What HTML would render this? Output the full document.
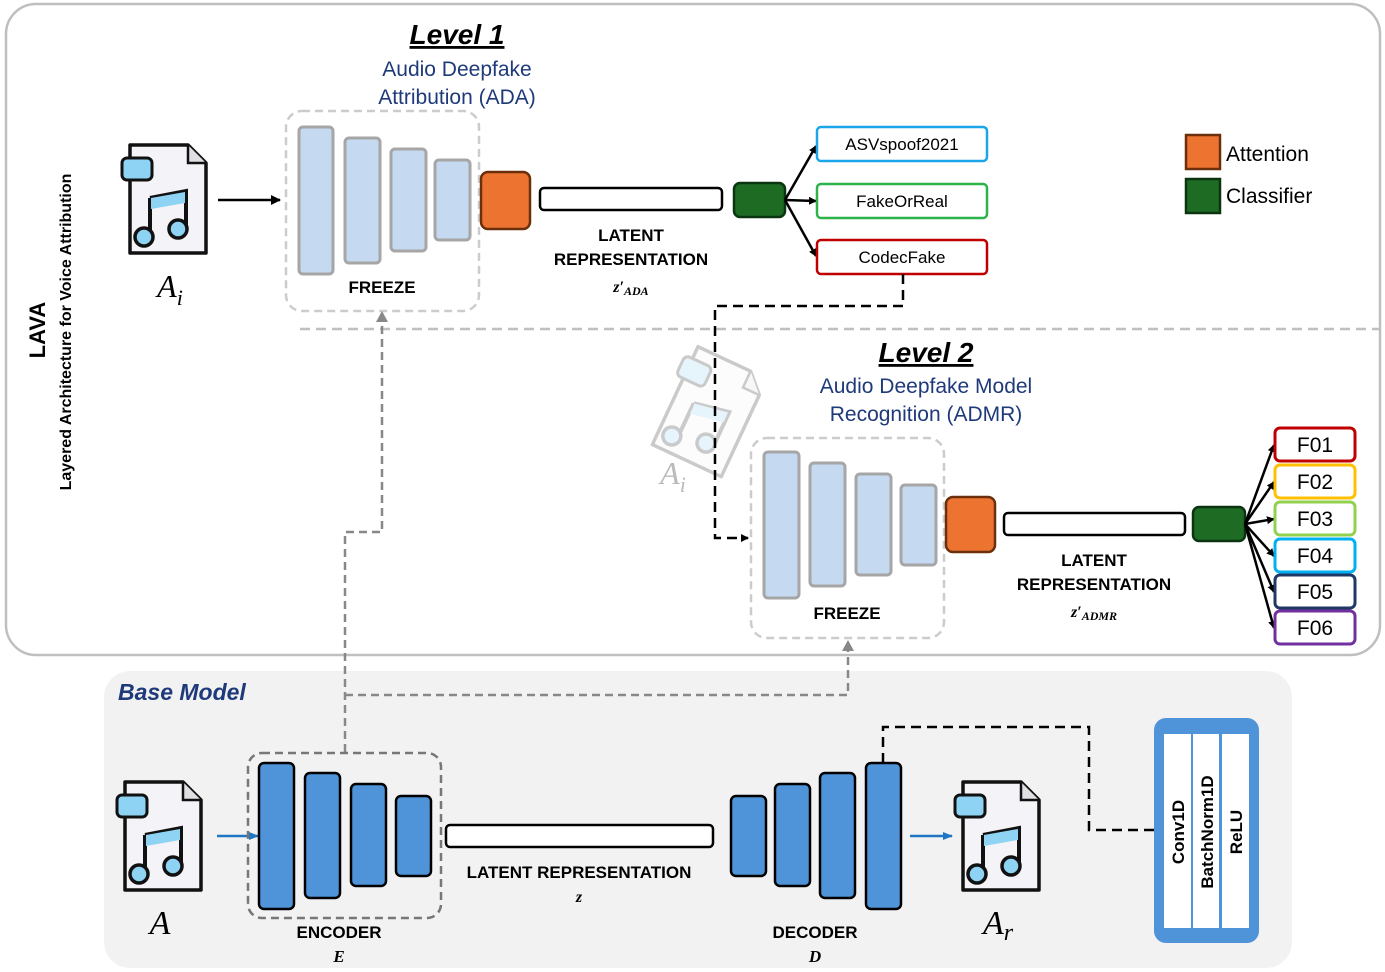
<!DOCTYPE html>
<html><head><meta charset="utf-8"><style>
html,body{margin:0;padding:0;background:#fff;}
svg{display:block;}
text{font-family:"Liberation Sans",sans-serif;}
text.s{font-family:"Liberation Serif",serif;}
</style></head><body>
<svg width="1385" height="972" viewBox="0 0 1385 972" xmlns="http://www.w3.org/2000/svg">
<defs>
<marker id="ah" markerWidth="8" markerHeight="8" refX="7" refY="4" orient="auto" markerUnits="userSpaceOnUse"><path d="M0,0 L8,4 L0,8z" fill="#000"/></marker>
<marker id="ahb" markerWidth="10" markerHeight="10" refX="9" refY="5" orient="auto" markerUnits="userSpaceOnUse"><path d="M0,0 L10,5 L0,10z" fill="#000"/></marker>
<marker id="ahblue" markerWidth="10" markerHeight="10" refX="9" refY="5" orient="auto" markerUnits="userSpaceOnUse"><path d="M0,1 L10,5 L0,9z" fill="#1f77c4"/></marker>
<g id="file">
<path d="M10,2 H68 L86,20 V110 H10 Z" fill="#f4f3f7" stroke="#111" stroke-width="3.5" stroke-linejoin="round"/>
<path d="M68,2 V20 H86" fill="#e0dfe4" stroke="#111" stroke-width="2.5"/>
<rect x="2" y="15" width="30" height="22" rx="5" fill="#8fd3f4" stroke="#111" stroke-width="3"/>
<path d="M30,55 L66,48 V86" fill="none" stroke="#111" stroke-width="4"/>
<path d="M30,55 V94" fill="none" stroke="#111" stroke-width="4"/>
<path d="M31,55 L65,49 V60 L31,66z" fill="#8fd3f4"/>
<circle cx="24" cy="94" r="9" fill="#8fd3f4" stroke="#111" stroke-width="3.5"/>
<circle cx="58" cy="86" r="9" fill="#8fd3f4" stroke="#111" stroke-width="3.5"/>
</g>
</defs>

<rect x="6" y="4" width="1374" height="651" rx="30" fill="#fff" stroke="#bfbfbf" stroke-width="2.5"/>
<line x1="300" y1="329" x2="1380" y2="329" stroke="#bfbfbf" stroke-width="2.5" stroke-dasharray="10,6"/>

<text transform="translate(45,330) rotate(-90)" text-anchor="middle" font-size="22" font-weight="bold">LAVA</text>
<text transform="translate(71,332) rotate(-90)" text-anchor="middle" font-size="16" font-weight="bold">Layered Architecture for Voice Attribution</text>

<text x="457" y="44" text-anchor="middle" font-size="28" font-weight="bold" font-style="italic" text-decoration="underline">Level 1</text>
<text x="457" y="76" text-anchor="middle" font-size="21" fill="#1f3a7a">Audio Deepfake</text>
<text x="457" y="104" text-anchor="middle" font-size="21" fill="#1f3a7a">Attribution (ADA)</text>

<use href="#file" x="120" y="143"/>
<text class="s" x="170" y="297" text-anchor="middle" font-size="32" font-style="italic">A<tspan font-size="22" dy="8">i</tspan></text>
<line x1="218" y1="200" x2="280" y2="200" stroke="#000" stroke-width="2.5" marker-end="url(#ahb)"/>

<rect x="286" y="111" width="193" height="200" rx="16" fill="none" stroke="#ccc" stroke-width="2.5" stroke-dasharray="8,5"/>
<g fill="#c5daf1" stroke="#a6a6a6" stroke-width="3">
<rect x="299" y="127" width="34" height="147" rx="4"/>
<rect x="345" y="138" width="35" height="125" rx="4"/>
<rect x="391" y="149" width="35" height="102" rx="4"/>
<rect x="435" y="160" width="35" height="80" rx="4"/>
</g>
<text x="382" y="293" text-anchor="middle" font-size="17" font-weight="bold">FREEZE</text>

<rect x="481" y="172" width="49" height="57" rx="7" fill="#ed7331" stroke="#6b2f0c" stroke-width="2.5"/>
<rect x="540" y="188" width="182" height="22" rx="4" fill="#fff" stroke="#000" stroke-width="2.5"/>
<text x="631" y="241" text-anchor="middle" font-size="17" font-weight="bold">LATENT</text>
<text x="631" y="265" text-anchor="middle" font-size="17" font-weight="bold">REPRESENTATION</text>
<text class="s" x="631" y="292" text-anchor="middle" font-size="16" font-style="italic" font-weight="bold">z′<tspan font-size="12" dy="3">ADA</tspan></text>

<rect x="734" y="183" width="51" height="34" rx="6" fill="#1e6b24" stroke="#0b3510" stroke-width="2.5"/>
<g stroke="#000" stroke-width="2.5" marker-end="url(#ah)">
<line x1="785" y1="200" x2="816" y2="146"/>
<line x1="785" y1="200" x2="816" y2="201"/>
<line x1="785" y1="200" x2="816" y2="256"/>
</g>
<g fill="#fff" stroke-width="2.5">
<rect x="817" y="127" width="170" height="34" rx="4" stroke="#1aa6e8"/>
<rect x="817" y="184" width="170" height="34" rx="4" stroke="#2cb34a"/>
<rect x="817" y="240" width="170" height="34" rx="4" stroke="#c00000"/>
</g>
<text x="902" y="150" text-anchor="middle" font-size="17">ASVspoof2021</text>
<text x="902" y="207" text-anchor="middle" font-size="17">FakeOrReal</text>
<text x="902" y="263" text-anchor="middle" font-size="17">CodecFake</text>

<rect x="1186" y="135" width="34" height="34" fill="#ed7331" stroke="#6b2f0c" stroke-width="2.5"/>
<text x="1226" y="161" font-size="21">Attention</text>
<rect x="1186" y="179" width="34" height="34" fill="#1e6b24" stroke="#0b3510" stroke-width="2.5"/>
<text x="1226" y="203" font-size="21">Classifier</text>

<g opacity="0.22" transform="translate(706,410) rotate(25) translate(-44,-56)">
<use href="#file"/>
</g>
<text class="s" x="673" y="484" text-anchor="middle" font-size="32" font-style="italic" fill="#bbb">A<tspan font-size="22" dy="8">i</tspan></text>

<path d="M903,274 V306 H715 V538 H748" fill="none" stroke="#000" stroke-width="2.5" stroke-dasharray="10,6" marker-end="url(#ah)"/>

<text x="926" y="362" text-anchor="middle" font-size="28" font-weight="bold" font-style="italic" text-decoration="underline">Level 2</text>
<text x="926" y="393" text-anchor="middle" font-size="21" fill="#1f3a7a">Audio Deepfake Model</text>
<text x="926" y="421" text-anchor="middle" font-size="21" fill="#1f3a7a">Recognition (ADMR)</text>

<rect x="751" y="438" width="193" height="200" rx="16" fill="none" stroke="#ccc" stroke-width="2.5" stroke-dasharray="8,5"/>
<g fill="#c5daf1" stroke="#a6a6a6" stroke-width="3">
<rect x="764" y="452" width="35" height="146" rx="4"/>
<rect x="810" y="463" width="35" height="123" rx="4"/>
<rect x="856" y="474" width="35" height="101" rx="4"/>
<rect x="901" y="485" width="35" height="80" rx="4"/>
</g>
<text x="847" y="619" text-anchor="middle" font-size="17" font-weight="bold">FREEZE</text>

<rect x="946" y="497" width="49" height="55" rx="7" fill="#ed7331" stroke="#6b2f0c" stroke-width="2.5"/>
<rect x="1004" y="513" width="181" height="22" rx="4" fill="#fff" stroke="#000" stroke-width="2.5"/>
<text x="1094" y="566" text-anchor="middle" font-size="17" font-weight="bold">LATENT</text>
<text x="1094" y="590" text-anchor="middle" font-size="17" font-weight="bold">REPRESENTATION</text>
<text class="s" x="1094" y="617" text-anchor="middle" font-size="16" font-style="italic" font-weight="bold">z′<tspan font-size="12" dy="3">ADMR</tspan></text>

<rect x="1193" y="507" width="52" height="34" rx="6" fill="#1e6b24" stroke="#0b3510" stroke-width="2.5"/>
<g stroke="#000" stroke-width="2.5" marker-end="url(#ah)">
<line x1="1245" y1="524" x2="1274" y2="445"/>
<line x1="1245" y1="524" x2="1274" y2="482"/>
<line x1="1245" y1="524" x2="1274" y2="519"/>
<line x1="1245" y1="524" x2="1274" y2="556"/>
<line x1="1245" y1="524" x2="1274" y2="592"/>
<line x1="1245" y1="524" x2="1274" y2="628"/>
</g>
<g fill="#fff" stroke-width="3">
<rect x="1275" y="428" width="80" height="33" rx="5" stroke="#c00000"/>
<rect x="1275" y="465" width="80" height="33" rx="5" stroke="#ffc000"/>
<rect x="1275" y="502" width="80" height="33" rx="5" stroke="#92d050"/>
<rect x="1275" y="539" width="80" height="33" rx="5" stroke="#00b0f0"/>
<rect x="1275" y="575" width="80" height="33" rx="5" stroke="#1f3864"/>
<rect x="1275" y="611" width="80" height="33" rx="5" stroke="#7030a0"/>
</g>
<g font-size="21" text-anchor="middle">
<text x="1315" y="452">F01</text>
<text x="1315" y="489">F02</text>
<text x="1315" y="526">F03</text>
<text x="1315" y="563">F04</text>
<text x="1315" y="599">F05</text>
<text x="1315" y="635">F06</text>
</g>

<rect x="104" y="671" width="1188" height="297" rx="26" fill="#f2f2f2"/>
<text x="118" y="700" font-size="23" font-weight="bold" font-style="italic" fill="#1f3a7a">Base Model</text>

<path d="M345,752 V532 H382 V316" fill="none" stroke="#888" stroke-width="2.5" stroke-dasharray="8,5"/>
<path d="M376,322 L382,311 L388,322z" fill="#888"/>
<path d="M345,695 H848 V645" fill="none" stroke="#888" stroke-width="2.5" stroke-dasharray="8,5"/>
<path d="M842,651 L848,640 L854,651z" fill="#888"/>

<use href="#file" x="115" y="780"/>
<text class="s" x="160" y="934" text-anchor="middle" font-size="34" font-style="italic">A</text>
<line x1="217" y1="836" x2="258" y2="836" stroke="#1f77c4" stroke-width="2.5" marker-end="url(#ahblue)"/>

<rect x="248" y="753" width="193" height="165" rx="14" fill="none" stroke="#777" stroke-width="2.5" stroke-dasharray="8,5"/>
<g fill="#4f93d8" stroke="#000" stroke-width="2.5">
<rect x="259" y="763" width="35" height="146" rx="5"/>
<rect x="305" y="773" width="35" height="125" rx="5"/>
<rect x="351" y="784" width="35" height="102" rx="5"/>
<rect x="396" y="796" width="35" height="80" rx="5"/>
<rect x="731" y="796" width="35" height="80" rx="5"/>
<rect x="775" y="784" width="35" height="102" rx="5"/>
<rect x="820" y="773" width="35" height="125" rx="5"/>
<rect x="866" y="763" width="35" height="146" rx="5"/>
</g>
<text x="339" y="938" text-anchor="middle" font-size="17" font-weight="bold">ENCODER</text>
<text class="s" x="339" y="962" text-anchor="middle" font-size="17" font-weight="bold" font-style="italic">E</text>
<rect x="446" y="825" width="267" height="22" rx="4" fill="#fff" stroke="#000" stroke-width="2.5"/>
<text x="579" y="878" text-anchor="middle" font-size="17" font-weight="bold">LATENT REPRESENTATION</text>
<text class="s" x="579" y="902" text-anchor="middle" font-size="16" font-weight="bold" font-style="italic">z</text>
<text x="815" y="938" text-anchor="middle" font-size="17" font-weight="bold">DECODER</text>
<text class="s" x="815" y="962" text-anchor="middle" font-size="17" font-weight="bold" font-style="italic">D</text>

<line x1="910" y1="836" x2="952" y2="836" stroke="#1f77c4" stroke-width="2.5" marker-end="url(#ahblue)"/>
<use href="#file" x="953" y="780"/>
<text class="s" x="998" y="934" text-anchor="middle" font-size="34" font-style="italic">A<tspan font-size="24" dy="6">r</tspan></text>

<path d="M883,763 V727 H1089 V830 H1155" fill="none" stroke="#000" stroke-width="2.5" stroke-dasharray="10,6"/>

<rect x="1154" y="718" width="105" height="225" rx="12" fill="#4f93d8"/>
<rect x="1164" y="734" width="27" height="194" fill="#fff"/>
<rect x="1193" y="734" width="26" height="194" fill="#fff"/>
<rect x="1222" y="734" width="27" height="194" fill="#fff"/>
<text transform="translate(1184,832) rotate(-90)" text-anchor="middle" font-size="17" font-weight="bold">Conv1D</text>
<text transform="translate(1213,832) rotate(-90)" text-anchor="middle" font-size="17" font-weight="bold">BatchNorm1D</text>
<text transform="translate(1242,832) rotate(-90)" text-anchor="middle" font-size="17" font-weight="bold">ReLU</text>
</svg>
</body></html>
